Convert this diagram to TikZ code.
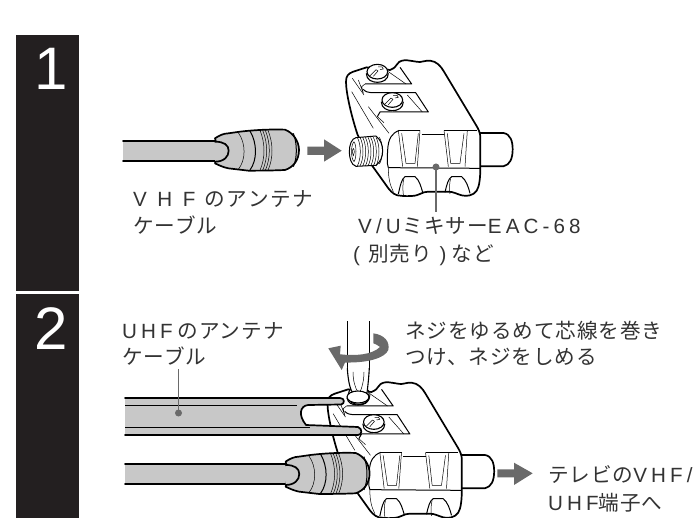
\documentclass[tikz,border=0pt]{standalone}
\usepackage{fontspec}
\setmainfont{Liberation Sans}
\newfontfamily\jpf{Noto Sans CJK JP}[LetterSpace=4.5]
\newfontfamily\jpw{Noto Sans CJK JP}[LetterSpace=8]
\newfontfamily\wideL{Liberation Sans}[LetterSpace=51]
\newfontfamily\tightL{Liberation Sans}[LetterSpace=20]
\definecolor{bar}{HTML}{231F20}
\definecolor{arrowgray}{HTML}{6A6A6A}
\definecolor{cablegray}{HTML}{C8C8C8}
\definecolor{txt}{HTML}{333333}
\newcommand\screwbody{%
    \fill[white] (0,10) ellipse [x radius=33,y radius=24];
    \draw[line width=1.1pt] (-33,5) .. controls (-33,25) and (-15,32) .. (0,32) .. controls (15,32) and (33,25) .. (33,5);
    \draw[line width=1.1pt,fill=white] (0,0) ellipse [x radius=31,y radius=22];
    \draw[fine] (-22,12) -- (-4,-6) -- (2,-2) -- (-12,14);
    \draw[fine] (2,-14) -- (14,-14) -- (18,-8) -- (8,-6);
}
\tikzset{
  barbox/.style={fill=bar,draw=none},
  numeral/.style={text=white,font=\fontsize{60}{60}\selectfont,anchor=base,inner sep=0},
  lbl/.style={text=txt,font=\fontsize{20.6}{24}\selectfont\jpf,anchor=base west,inner sep=0},
  thick outline/.style={line width=1.7pt,line join=round,line cap=round},
  med/.style={line width=1pt,line join=round},
  fine/.style={line width=.5pt,line join=round},
  leader/.style={draw=arrowgray,line width=1.7pt},
  dot/.style={circle,fill=arrowgray,minimum size=7pt,inner sep=0},
  bigarrow/.style={fill=arrowgray,draw=none},
  mixer/.pic={
    % plug
    \draw[thick outline,fill=white] (470,249) -- (550,249) .. controls (572,252) and (578,275) .. (578,298) .. controls (578,325) and (570,345) .. (550,349) -- (470,349) -- cycle;
    % body
    \draw[thick outline,fill=white] (78,95) .. controls (78,78) and (85,70) .. (100,65) -- (140,52) -- (210,60)
      .. controls (222,55) and (228,50) .. (232,42) .. controls (238,32) and (250,30) .. (262,31)
      .. controls (280,33) and (290,36) .. (300,36) .. controls (310,36) and (315,31) .. (330,32)
      .. controls (350,34) and (362,48) .. (372,65) -- (468,225) .. controls (476,238) and (481,250) .. (481,262)
      -- (481,350) .. controls (481,385) and (478,410) .. (470,422)
      .. controls (460,437) and (440,440) .. (425,436) .. controls (410,432) and (400,425) .. (385,425)
      -- (325,425) .. controls (305,425) and (300,437) .. (275,438)
      .. controls (255,439) and (245,438) .. (232,436) .. controls (218,432) and (208,420) .. (198,405)
      -- (150,338) -- (112,252) .. controls (95,200) and (78,130) .. (78,95) -- cycle;
    % front face
    \draw[med] (205,353) -- (481,355);
    \draw[fine] (238,241) -- (300,241) (305,252) -- (372,252) (372,241) -- (442,241) -- (470,241);
    \draw[med] (238,241) .. controls (215,250) and (205,265) .. (203,300) .. controls (202,320) and (200,340) .. (205,353);
    \draw[fine] (205,353) .. controls (205,385) and (210,405) .. (220,425);
    \draw[fine] (235,241) -- (248,350) (300,241) -- (292,350);
    \draw[fine] (245,250) -- (258,340) -- (285,340) -- (295,250);
    \draw[fine] (372,241) -- (385,350) (442,241) -- (435,350);
    \draw[fine] (382,250) -- (392,340) -- (420,340) -- (432,250);
    \draw[med] (235,432) .. controls (240,410) and (245,385) .. (255,380) -- (285,380) .. controls (298,390) and (303,410) .. (308,427);
    \draw[med] (375,427) .. controls (380,405) and (385,385) .. (395,380) -- (425,380) .. controls (438,390) and (445,410) .. (450,430);
    \draw[fine] (252,385) .. controls (248,400) and (248,415) .. (250,435);
    \draw[fine] (392,385) .. controls (388,400) and (388,415) .. (390,432);
    % channels
    \draw[med] (135,102) -- (275,102) -- (240,52);
    \draw[fine] (205,65) -- (258,102);
    \draw[med] (130,118) .. controls (135,125) and (145,128) .. (160,128) -- (287,128) -- (325,186) -- (180,186) -- (172,200);
    \draw[fine] (262,135) -- (307,186);
    \draw[fine] (115,90) -- (130,130) -- (125,110) -- (135,102);
    \draw[fine] (97,85) -- (132,135);
    \draw[fine] (95,125) -- (160,235);
    \draw[fine] (145,170) -- (207,250);
    \draw[fine] (172,200) -- (192,218);
    % threaded socket
    \draw[med,fill=white] (108,263) -- (168,258) .. controls (182,270) and (188,285) .. (188,302) .. controls (188,320) and (182,335) .. (168,346) -- (108,349) .. controls (92,345) and (88,320) .. (88,305) .. controls (88,285) and (95,265) .. (108,263) -- cycle;
    \foreach \x in {112,120,...,168}
      \draw[fine] (\x,262) .. controls (\x+12,285) and (\x+12,325) .. (\x,348);
    \draw[fine] (102,275) .. controls (92,285) and (92,325) .. (102,335) .. controls (110,325) and (110,285) .. (102,275);
    \draw[fine] (100,295) .. controls (96,300) and (96,312) .. (100,318) .. controls (104,312) and (104,300) .. (100,295);
    \draw[fine] (178,262) .. controls (190,280) and (190,325) .. (178,342);
    % screws
    \begin{scope}[shift={(172,65)}]\screwbody\end{scope}
    \begin{scope}[shift={(217,150)}]\screwbody\end{scope}
  },
  plugend/.pic={
    \draw[thick outline,fill=cablegray] (345,265) .. controls (355,258) and (370,250) .. (385,250) -- (420,245) .. controls (480,238) and (530,238) .. (555,239)
      .. controls (580,248) and (597,275) .. (597,300) .. controls (597,330) and (580,352) .. (555,360)
      .. controls (510,362) and (470,362) .. (445,362) -- (385,355) .. controls (370,352) and (355,345) .. (345,340) .. controls (352,320) and (352,285) .. (345,265) -- cycle;
    \draw[thick outline,fill=cablegray] (345,275) .. controls (372,275) and (386,285) .. (386,302) .. controls (386,320) and (372,335) .. (345,335);
    \draw[fine] (415,248) .. controls (438,280) and (438,330) .. (415,358);
    \draw[med] (450,243) .. controls (472,280) and (472,330) .. (450,360);
    \foreach \x in {480,488,496,504}
      \draw[fine] (\x,241) .. controls (\x+16,280) and (\x+16,325) .. (\x,361);
    \draw[med] (580,250) .. controls (592,280) and (592,325) .. (580,350);
  }
}
\begin{document}
\begin{tikzpicture}[x=1pt,y=-1pt]
\useasboundingbox (0,0) rectangle (696,518);
% step bars
\fill[barbox] (16,35.3) rectangle (78.5,291.3);
\fill[barbox] (16,294) rectangle (78.5,518);
\node[numeral] (n1) at (51.5,90) {1};
\node[numeral] (n2) at (51.3,349.5) {2};

% --- step 1 ---
\path[fill=cablegray] (123,141) rectangle (222,161);
\draw[thick outline] (123,141) -- (218,141) (123,161) -- (218,161);
\pic[scale=1/3] at (100,50) {plugend};
\fill[bigarrow] (307.3,146.7) -- (324,146.7) -- (324,139.3) -- (341.7,150.7) -- (324,161.7) -- (324,155) -- (307.3,155) -- cycle;
\pic[scale=1/3] at (320,50) {mixer};
\coordinate (d1) at (436,167);
\coordinate (l1) at (436,212);
\node[dot] (dot1) at (d1) {};
\draw[leader] (dot1.center) -- (l1);

\node[lbl] (t1) at (133,207) {{\wideL VHF}\hspace{9pt}{\jpw のアンテナ}};
\node[lbl] (t2) at (133,234) {ケーブル};
\node[lbl] (t3) at (358,234) {{\tightL V/U}\hspace{2pt}ミキサー{\tightL EAC-68}};
\node[lbl] (t4) at (353,262) {{\tightL (}\hspace{8pt}別売り\hspace{8pt}{\tightL )}\hspace{5pt}など};

% --- step 2 ---
\pic[scale=1/3] at (301.5,372) {mixer};
% lower cable
\path[fill=cablegray] (125,464) rectangle (293,484);
\draw[thick outline] (125,464) -- (289,464) (125,484) -- (289,484);
\pic[scale=1/3] at (170.6,373.3) {plugend};
% flat cable
\draw[thick outline,fill=cablegray] (125,398) -- (340,398) .. controls (345,398) and (345,404) .. (341,404.5) -- (308,405) .. controls (300,406) and (298,415) .. (306,425) -- (358,427) .. controls (363,429) and (362,435) .. (358,435) -- (125,435);
\draw[med] (125,405) -- (297,405) (125,427) -- (310,427);
% screwdriver
\fill[white] (347,321) rectangle (369,368);
\draw[line width=1.5pt] (347.3,321.5) -- (347.3,370) (369.3,321.5) -- (369.3,370);
\draw[line width=1.1pt,fill=white] (347.3,368) .. controls (348,380) and (350,390) .. (353,393) -- (367,393) .. controls (368,385) and (369,375) .. (369.3,368);
\draw[fine] (353,372) .. controls (353,380) and (355,388) .. (358,392);
\draw[fine] (364,372) .. controls (364,380) and (362,388) .. (360,392);
\draw[line width=1.1pt,fill=white] (358,397) ellipse [x radius=11,y radius=6];
\draw[line width=1.1pt] (347,398) .. controls (348,403) and (352,405) .. (358,405) .. controls (364,405) and (368,403) .. (369,398);
% rotation arrow
\fill[bigarrow] (373.3,333.3) .. controls (385,335) and (390,342) .. (388.3,350) .. controls (385,358) and (368,363) .. (345,362.5) -- (341.7,370) -- (328.3,348.3) -- (340.7,345.7) -- (340,354.3) .. controls (355,356) and (372,355) .. (380,347) .. controls (378,345) and (375,344) .. (373.3,343.3) -- cycle;

% leader on flat cable
\coordinate (d2) at (178.5,413);
\coordinate (l2) at (178.5,369);
\node[dot] (dot2) at (d2) {};
\draw[leader] (dot2.center) -- (l2);
% output arrow
\fill[bigarrow] (497.3,469.3) -- (514,469.3) -- (514,462.7) -- (532.7,473.3) -- (514,485) -- (514,477.3) -- (497.3,477.3) -- cycle;

\node[lbl] (t5) at (122,339) {{\tightL UHF}\hspace{5pt}のアンテナ};
\node[lbl] (t6) at (122,365) {ケーブル};
\node[lbl] (t7) at (405,339) {ネジをゆるめて芯線を巻き};
\node[lbl] (t8) at (405,365) {つけ、ネジをしめる};
\node[lbl] (t9) at (548,482) {テレビの{\tightL VHF/}};
\node[lbl] (t10) at (548,510) {{\tightL UHF}端子へ};
\end{tikzpicture}
\end{document}
